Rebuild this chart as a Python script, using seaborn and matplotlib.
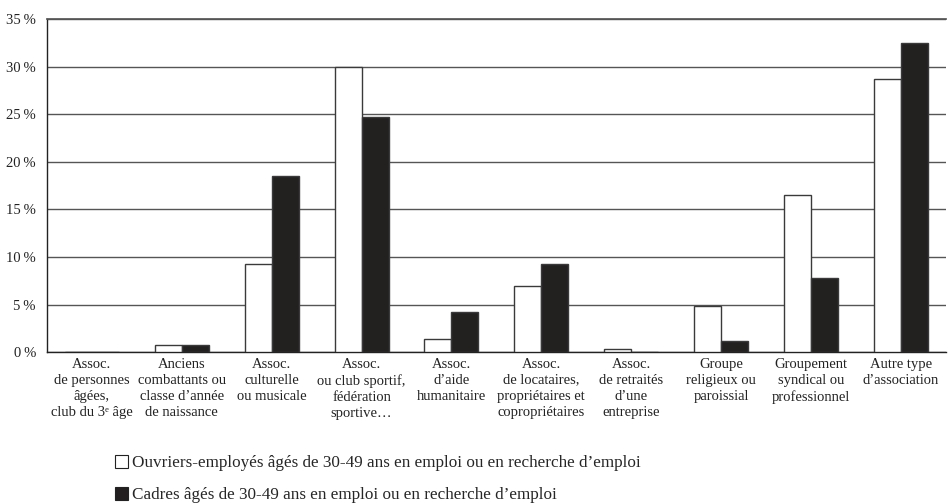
import numpy as np
import pandas as pd
import matplotlib.pyplot as plt
import seaborn as sns
from matplotlib.patches import Patch
from matplotlib.ticker import FixedLocator, FuncFormatter

categories = [
    "Assoc.\nde personnes\nâgées,\nclub du 3ᵉ âge",
    "Anciens\ncombattants ou\nclasse d’année\nde naissance",
    "Assoc.\nculturelle\nou musicale",
    "Assoc.\nou club sportif,\nfédération\nsportive…",
    "Assoc.\nd’aide\nhumanitaire",
    "Assoc.\nde locataires,\npropriétaires et\ncopropriétaires",
    "Assoc.\nde retraités\nd’une\nentreprise",
    "Groupe\nreligieux ou\nparoissial",
    "Groupement\nsyndical ou\nprofessionnel",
    "Autre type\nd’association",
]
ouvriers = [0.0, 0.7, 9.3, 30.0, 1.4, 6.9, 0.3, 4.8, 16.5, 28.7]
cadres = [0.0, 0.7, 18.5, 24.7, 4.2, 9.3, 0.0, 1.2, 7.8, 32.5]
series_names = [
    "Ouvriers-employés âgés de 30-49 ans en emploi ou en recherche d’emploi",
    "Cadres âgés de 30-49 ans en emploi ou en recherche d’emploi",
]
yticks = [0, 5, 10, 15, 20, 25, 30, 35]

sns.set_theme(style="white")
plt.rcParams["font.family"] = ["Liberation Serif", "DejaVu Serif"]

df = pd.DataFrame({
    "cat": categories * 2,
    "val": ouvriers + cadres,
    "serie": [series_names[0]] * len(categories) + [series_names[1]] * len(categories),
})

fig = plt.figure(figsize=(9.48, 5.03), dpi=100)
ax = fig.add_axes([0.0496, 0.300, 0.948, 0.662])

colors = ["#ffffff", "#231f20"]
sns.barplot(data=df, x="cat", y="val", hue="serie", order=categories,
            hue_order=series_names, palette=colors, width=0.6, gap=0,
            edgecolor="#3a3a3a", linewidth=1.0, legend=False, ax=ax, zorder=3)

ax.set_ylim(0, 35)
ax.set_xlim(-0.5, len(categories) - 0.5)
ax.yaxis.set_major_locator(FixedLocator(yticks))
ax.yaxis.set_major_formatter(FuncFormatter(lambda v, p: f"{int(v)}\u2009%"))
ax.grid(axis="y", color="#555555", linewidth=1.0, zorder=0)
ax.set_axisbelow(True)

ax.spines["right"].set_visible(False)
ax.spines["top"].set_color("#555555")
ax.spines["left"].set_color("#222222")
ax.spines["bottom"].set_color("#222222")
ax.spines["left"].set_linewidth(1.0)
ax.spines["bottom"].set_linewidth(1.0)

ax.tick_params(axis="y", length=0, labelsize=10.5, pad=8, colors="#222222")
ax.tick_params(axis="x", which="major", length=0, labelsize=10.5, pad=4, colors="#222222")
ax.set_xticks(np.arange(-0.5, len(categories) - 0.5, 1), minor=True)
ax.tick_params(axis="x", which="minor", length=4, width=1, color="#222222", direction="out")
ax.set_xlabel("")
ax.set_ylabel("")
for lab in ax.get_xticklabels():
    lab.set_linespacing(1.3)

handles = [Patch(facecolor=c, edgecolor="#222222", linewidth=0.8) for c in colors]
fig.legend(handles, series_names, loc="upper left", bbox_to_anchor=(0.121, 0.096),
           frameon=False, fontsize=12.3, handlelength=0.8, handleheight=0.8,
           handletextpad=0.2, labelspacing=0.9, borderaxespad=0, borderpad=0)

fig.savefig("out.png", dpi=100)
